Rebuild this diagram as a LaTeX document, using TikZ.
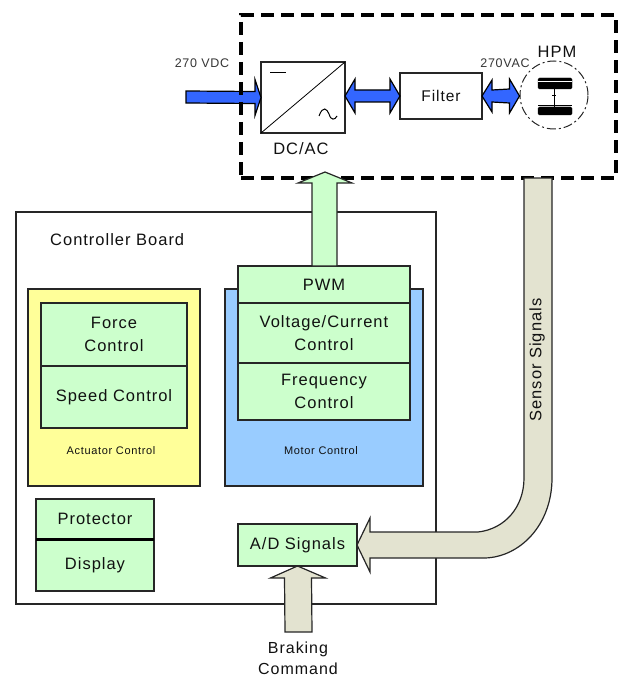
\documentclass[tikz,border=0pt]{standalone}
\usepackage{fontspec}
\setmainfont{Liberation Sans}
\newfontfamily\lbl[LetterSpace=6]{Liberation Sans}
\usetikzlibrary{calc}
\definecolor{cgreen}{HTML}{CCFFCC}
\definecolor{cyellow}{HTML}{FFFF99}
\definecolor{cblue}{HTML}{99CCFF}
\definecolor{cbeige}{HTML}{E3E3D0}
\definecolor{cpower}{HTML}{3366FF}
\definecolor{ctext}{HTML}{111111}
\tikzset{
  x=1pt,y=-1pt,
  pane/.style={draw=black!85,line width=1.2pt,inner sep=0pt,outer sep=0pt,align=center,text=ctext,font=\lbl\fontsize{16.5}{22.5}\selectfont},
  greenbox/.style={pane,fill=cgreen},
  whitebox/.style={pane,fill=white},
  label/.style={inner sep=0pt,align=center,text=ctext,font=\lbl\fontsize{16.5}{23}\selectfont},
  tinylabel/.style={inner sep=0pt,align=center,text=ctext!85,font=\lbl\fontsize{12.5}{14}\selectfont},
  smalllabel/.style={inner sep=0pt,text=ctext,font=\lbl\fontsize{11}{12}\selectfont},
  powerarrow/.style={draw=black,line width=1.2pt,fill=cpower,line join=miter},
  signalarrow/.style={draw=black!85,line width=1.2pt,fill=cbeige,line join=miter},
  cmdarrow/.style={draw=black!85,line width=1.2pt,fill=cgreen,line join=miter},
}
\begin{document}
\begin{tikzpicture}
\useasboundingbox (0,0) rectangle (625,679);
% controller board
\node[pane,fill=white,minimum width=420pt,minimum height=392pt] (board) at (226,408) {};
\node[label,anchor=west] (boardlabel) at (50,240) {Controller Board};
% coloured panes
\node[pane,fill=cyellow,minimum width=172pt,minimum height=197pt] (actuator) at (114,387.5) {};
\node[pane,fill=cblue,minimum width=198pt,minimum height=197pt] (motor) at (324,387.5) {};
\node[smalllabel] (actlabel) at (111,451) {Actuator Control};
\node[smalllabel] (motlabel) at (321,451) {Motor Control};
% actuator stack
\node[greenbox,minimum width=146pt,minimum height=63pt] (force) at (114,334.5) {Force\\Control};
\node[greenbox,minimum width=146pt,minimum height=62pt] (speed) at (114,397) {Speed Control};
% motor stack
\node[greenbox,minimum width=172pt,minimum height=37pt] (pwm) at (324,284.5) {PWM};
\node[greenbox,minimum width=172pt,minimum height=60pt] (vc) at (324,333) {Voltage/Current\\Control};
\node[greenbox,minimum width=172pt,minimum height=57pt] (freq) at (324,391.5) {Frequency\\Control};
% protector / display
\node[greenbox,minimum width=118pt,minimum height=40pt] (prot) at (95,519) {Protector};
\node[greenbox,minimum width=118pt,minimum height=52pt] (disp) at (95,565) {Display};
\draw[line width=3pt] (prot.south west) -- (prot.south east);
% A/D
\node[greenbox,minimum width=119pt,minimum height=42pt] (ad) at (297.5,545) {A/D Signals};
% converter blocks
\node[whitebox,minimum width=84pt,minimum height=71pt] (dcac) at (303,97.5) {};
\node[whitebox,minimum width=82pt,minimum height=46pt,font=\lbl\fontsize{15.5}{20}\selectfont] (filter) at (441,96) {Filter};
\node[draw=black!85,line width=1pt,dash pattern=on 9pt off 3pt on 2pt off 3pt,circle,minimum size=68pt,inner sep=0pt] (hpm) at (554,95) {};
% power arrows
\coordinate (src) at (186,97);
\draw[powerarrow] (dcac.west) -- ++(-6,-18) -- ++(0,12) -- ($(src)+(0,-6)$) -- ($(src)+(0,6)$) -- ($(dcac.west)+(-6,6)$) -- ++(0,12) -- cycle;
\path (dcac.east) ++(0,-1.5) coordinate (a1) (filter.west) coordinate (a2) (filter.east) coordinate (b1);
\path (hpm.west) ++(0,1) coordinate (b2);
\draw[powerarrow] (a1) -- ++(10,-17) -- ++(0,11) -- ($(a2)+(-10,-6)$) -- ++(0,-11) -- (a2) -- ++(-10,17) -- ++(0,-11) -- ($(a1)+(10,6)$) -- ++(0,11) -- cycle;
\draw[powerarrow] (b1) -- ++(10,-16) -- ++(0,10) -- ($(b2)+(-10,-7)$) -- ++(0,-10) -- (b2) -- ++(-10,17) -- ++(0,-10) -- ($(b1)+(10,6)$) -- ++(0,10) -- cycle;
% dashed enclosure
\node[draw=black,line width=3.2pt,dash pattern=on 13pt off 7pt,minimum width=375pt,minimum height=163pt,inner sep=0pt] (drive) at (428.5,96.5) {};
% converter glyphs
\draw[line width=0.8pt] (dcac.south west) -- (dcac.north east);
\draw[line width=1pt] (270,73) -- (286,73);
\draw[line width=1pt] (319,116) .. controls (323,105) and (327,109) .. (329,114) .. controls (331,121) and (335,120) .. (337,116);
% motor glyph
\draw[fill=black,rounded corners=1.5pt] (538,78) rectangle (572,89);
\draw[white,line width=0.7pt] (538,81) -- (572,81);
\draw[fill=black,rounded corners=1.5pt] (538,107) rectangle (572,115);
\draw[line width=0.7pt] (538,105) -- (572,105);
\draw[line width=1pt] (554,89) -- (554,107);
\draw[line width=1pt] (552,96) -- (556,96);
% texts of drive
\node[tinylabel] (vdc) at (202,63) {270 VDC};
\node[label] (dcaclabel) at (301,149) {DC/AC};
\node[tinylabel] (vac) at (505,63) {270VAC};
\node[label] (hpmlabel) at (557,52) {HPM};
% PWM arrow
\coordinate (pwmtip) at (325,172);
\draw[cmdarrow] (pwmtip) -- ++(27,11) -- ++(-15,0) -- ($(pwm.north)+(13,0)$) -- ($(pwm.north)+(-12,0)$) -- ($(pwmtip)+(-13,11)$) -- ++(-14,0) -- cycle;
% sensor arrow
\coordinate (senstop) at (537.5,178);
\draw[signalarrow] (ad.east) -- ($(ad.east)+(13,-27)$) -- ++(0,14) -- (478,532)
  .. controls (505,529) and (524,507) .. (524,478) -- ($(senstop)+(-13.5,0)$) -- ($(senstop)+(14.5,0)$)
  -- (552,478) .. controls (552,525) and (520,557) .. (485,558) -- ($(ad.east)+(13,13)$) -- ++(0,14) -- cycle;
\node[label,rotate=90] (senslabel) at (537,360) {Sensor Signals};
% braking arrow
\coordinate (brk) at (298.5,632);
\draw[signalarrow] (ad.south) -- ++(28,12) -- ++(-14,0) -- ($(brk)+(13.5,0)$) -- ($(brk)+(-13.5,0)$) -- ($(ad.south)+(-13,12)$) -- ++(-14,0) -- cycle;
\node[label,font=\lbl\fontsize{16}{21}\selectfont] (brklabel) at (298,658) {Braking\\Command};
\end{tikzpicture}
\end{document}
